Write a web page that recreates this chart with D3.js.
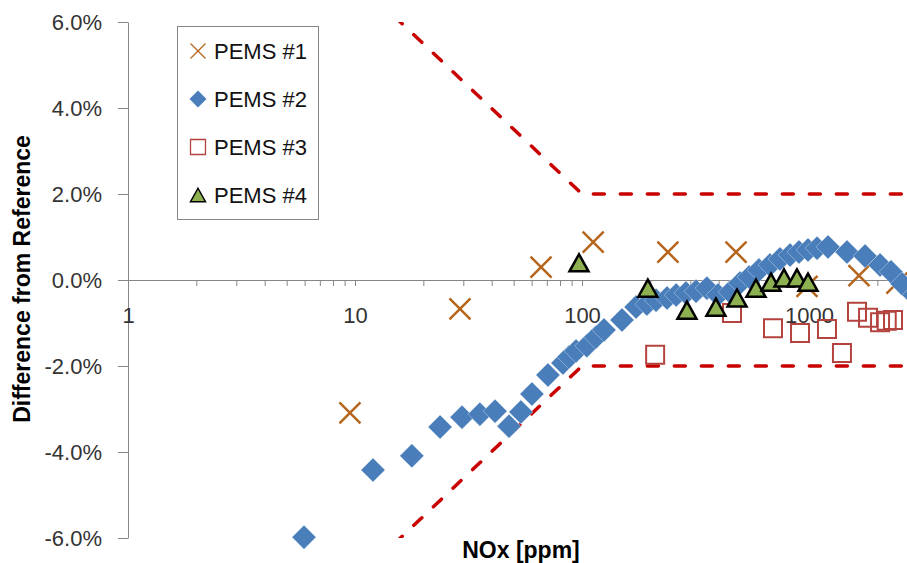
<!DOCTYPE html>
<html>
<head>
<meta charset="utf-8">
<script src="https://cdn.jsdelivr.net/npm/d3@7"></script>
<style>
  body { margin: 0; background: #fff; }
  svg { display: block; font-family: "Liberation Sans", Arial, sans-serif; }
</style>
</head>
<body>
<div id="chart"></div>
<script>
// NOx [ppm] and difference from reference [%] for each PEMS
const pems1Nox = [9.5, 29, 66, 112, 239, 477, 980, 1660, 2440];
const pems1Diff = [-3.09, -0.67, 0.30, 0.88, 0.65, 0.65, -0.15, 0.10, -0.07];

const pems2Nox = [5.96, 12.0, 17.8, 23.7, 29.6, 35.5, 41.4, 47.7, 53.8, 60.2, 70.8, 82.4, 87.6, 94.1,
  105, 115, 125, 150, 173, 193, 212, 237, 260, 287, 318, 355, 397, 449, 497, 545, 602, 673, 745,
  825, 903, 990, 1085, 1213, 1470, 1766, 2056, 2297, 2570, 2900];
const pems2Diff = [-5.98, -4.42, -4.09, -3.42, -3.19, -3.12, -3.05, -3.40, -3.07, -2.65, -2.21, -1.93, -1.79, -1.65,
  -1.53, -1.33, -1.16, -0.93, -0.63, -0.56, -0.47, -0.42, -0.35, -0.30, -0.26, -0.19, -0.35, -0.28, -0.07, 0.07, 0.23, 0.35, 0.49,
  0.58, 0.65, 0.70, 0.74, 0.77, 0.65, 0.56, 0.35, 0.19, -0.09, -0.35];

const pems3Nox = [210, 458, 694, 913, 1200, 1397, 1627, 1820, 2056, 2200, 2345];
const pems3Diff = [-1.74, -0.77, -1.12, -1.23, -1.14, -1.70, -0.74, -0.88, -0.98, -0.95, -0.93];

const pems4Nox = [97, 195, 290, 389, 482, 584, 680, 776, 885, 990];
const pems4Diff = [0.40, -0.19, -0.70, -0.63, -0.42, -0.19, -0.05, 0.05, 0.05, -0.05];

// tolerance band
const limitNox = [10, 100, 10000];
const limitUpper = [7, 2, 2];
const limitLower = [-7, -2, -2];

const yTicks = [-6, -4, -2, 0, 2, 4, 6];
const xTickLabels = [1, 10, 100, 1000];

const seriesNames = ['PEMS #1', 'PEMS #2', 'PEMS #3', 'PEMS #4'];

function zip(xs, ys){
  return xs.map(function(v, i){ return { nox: v, diff: ys[i] }; });
}

// marker shapes, s = full width
function markerPath(type, s){
  let h = s / 2;
  if(type === 'x'){
    return 'M' + (-h) + ',' + (-h) + 'L' + h + ',' + h + 'M' + (-h) + ',' + h + 'L' + h + ',' + (-h);
  }else if(type === 'diamond'){
    return 'M0,' + (-h) + 'L' + h + ',0L0,' + h + 'L' + (-h) + ',0Z';
  }else if(type === 'square'){
    return 'M' + (-h) + ',' + (-h) + 'H' + h + 'V' + h + 'H' + (-h) + 'Z';
  }
  return 'M0,' + (-h * 0.9) + 'L' + h + ',' + (h * 0.9) + 'L' + (-h) + ',' + (h * 0.9) + 'Z';
}

const markerStyles = [
  { type: 'x', fill: 'none', stroke: '#B5651D', width: 2.5, size: 21, legendSize: 15, legendWidth: 1.3 },
  { type: 'diamond', fill: '#4A7EBB', stroke: '#dfe8f3', width: 0.4, size: 24, legendSize: 17, legendWidth: 0 },
  { type: 'square', fill: 'none', stroke: '#B4433F', width: 2, size: 18, legendSize: 15, legendWidth: 1.3 },
  { type: 'triangle', fill: '#8DB050', stroke: '#000', width: 2.5, size: 19, legendSize: 15, legendWidth: 1.5 }
];

ScatterChart = function(_parentElement){
  this.parentElement = _parentElement;

  this.initVis();
};

ScatterChart.prototype.initVis = function(){
  let vis = this;

  vis.margin = { top: 22, left: 128 };
  vis.width = 908;
  vis.height = 516;

  vis.svg = d3.select(vis.parentElement)
    .append('svg')
    .attr('width', 907)
    .attr('height', 563);

  vis.svg.append('defs').append('clipPath')
    .attr('id', 'plot-clip')
    .append('rect')
    .attr('x', 0)
    .attr('y', 0)
    .attr('width', vis.width)
    .attr('height', vis.height);

  vis.g = vis.svg.append('g')
    .attr('transform', 'translate(' + vis.margin.left + ', ' + vis.margin.top + ')');

  vis.x = d3.scaleLog()
    .domain([1, 10000])
    .range([0, vis.width]);

  vis.y = d3.scaleLinear()
    .domain([-6, 6])
    .range([vis.height, 0]);

  // Y axis
  vis.yAxisCall = d3.axisLeft(vis.y)
    .tickValues(yTicks)
    .tickSize(10)
    .tickSizeOuter(0)
    .tickPadding(16)
    .tickFormat(function(d){ return d.toFixed(1) + '%'; });

  vis.yAxis = vis.g.append('g')
    .attr('class', 'y axis-left')
    .call(vis.yAxisCall);

  // X axis crosses at 0%
  let xTickValues = [];
  [1, 10, 100, 1000].forEach(function(base){
    d3.range(1, 10).forEach(function(m){ xTickValues.push(base * m); });
  });
  xTickValues.push(10000);

  vis.xAxisCall = d3.axisBottom(vis.x)
    .tickValues(xTickValues)
    .tickSize(6)
    .tickSizeOuter(0)
    .tickPadding(21)
    .tickFormat(function(d){ return xTickLabels.indexOf(d) >= 0 ? d : ''; });

  vis.xAxis = vis.g.append('g')
    .attr('class', 'x axis-bottom')
    .attr('transform', 'translate(0, ' + vis.y(0) + ')')
    .call(vis.xAxisCall);

  vis.g.selectAll('.axis-left, .axis-bottom').selectAll('path, line')
    .attr('stroke', '#868686');
  vis.g.selectAll('.axis-left, .axis-bottom').selectAll('text')
    .attr('font-size', '22px')
    .attr('font-family', '"Liberation Sans", Arial, sans-serif')
    .attr('fill', '#333');

  // Y Label
  vis.svg.append('text')
    .attr('class', 'y axis-label')
    .attr('transform', 'translate(30, 279) rotate(-90)')
    .attr('font-size', '23px')
    .attr('font-weight', 'bold')
    .attr('text-anchor', 'middle')
    .attr('fill', '#000')
    .text('Difference from Reference');

  // X Label
  vis.svg.append('text')
    .attr('class', 'x axis-label')
    .attr('x', 521)
    .attr('y', 558)
    .attr('font-size', '23px')
    .attr('font-weight', 'bold')
    .attr('text-anchor', 'middle')
    .attr('fill', '#000')
    .text('NOx [ppm]');

  // tolerance lines
  vis.line = d3.line()
    .x(function(d){ return vis.x(d.nox); })
    .y(function(d){ return vis.y(d.diff); });

  [limitUpper, limitLower].forEach(function(lim){
    vis.g.append('path')
      .datum(zip(limitNox, lim))
      .attr('clip-path', 'url(#plot-clip)')
      .attr('d', vis.line)
      .attr('fill', 'none')
      .attr('stroke', '#C80000')
      .attr('stroke-width', 3.5)
      .attr('stroke-linecap', 'round')
      .attr('stroke-linejoin', 'round')
      .attr('stroke-dasharray', '11 16');
  });

  // markers
  let seriesData = [
    zip(pems1Nox, pems1Diff),
    zip(pems3Nox, pems3Diff),
    zip(pems2Nox, pems2Diff),
    zip(pems4Nox, pems4Diff)
  ];
  let seriesStyle = [markerStyles[0], markerStyles[2], markerStyles[1], markerStyles[3]];

  seriesData.forEach(function(data, i){
    let st = seriesStyle[i];
    vis.g.append('g')
      .selectAll('path')
      .data(data)
      .enter()
      .append('path')
      .attr('transform', function(d){
        return 'translate(' + vis.x(d.nox) + ',' + vis.y(d.diff) + ')';
      })
      .attr('d', markerPath(st.type, st.size))
      .attr('fill', st.fill)
      .attr('stroke', st.stroke)
      .attr('stroke-width', st.width)
      .attr('stroke-linejoin', 'miter');
  });

  // Legend
  vis.legend = vis.svg.append('g')
    .attr('class', 'legend');

  vis.legend.append('rect')
    .attr('x', 177.5)
    .attr('y', 26.5)
    .attr('width', 141)
    .attr('height', 193)
    .attr('fill', '#fff')
    .attr('stroke', '#868686');

  let rows = vis.legend.selectAll('.legend-row')
    .data(seriesNames)
    .enter()
    .append('g')
    .attr('class', 'legend-row')
    .attr('transform', function(d, i){ return 'translate(198, ' + (51 + i * 48) + ')'; });

  rows.append('path')
    .attr('d', function(d, i){ return markerPath(markerStyles[i].type, markerStyles[i].legendSize); })
    .attr('fill', function(d, i){ return markerStyles[i].fill; })
    .attr('stroke', function(d, i){ return markerStyles[i].legendWidth ? markerStyles[i].stroke : 'none'; })
    .attr('stroke-width', function(d, i){ return markerStyles[i].legendWidth; });

  rows.append('text')
    .attr('x', 16)
    .attr('y', 8)
    .attr('font-size', '22px')
    .attr('fill', '#111')
    .text(function(d){ return d; });
};

new ScatterChart('#chart');
</script>
</body>
</html>
